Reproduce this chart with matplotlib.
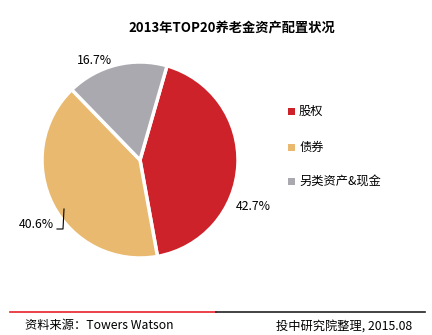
import matplotlib
matplotlib.use("Agg")
import matplotlib.pyplot as plt
from matplotlib.patches import Rectangle
from matplotlib.lines import Line2D

plt.rcParams['font.family'] = ['Noto Sans CJK SC', 'DejaVu Sans']

labels = ["股权", "债券", "另类资产&现金"]
shares = [42.7, 40.6, 16.7]
colors = ["#CD2229", "#E8B96F", "#A9A9AF"]
title = "2013年TOP20养老金资产配置状况"
source = "资料来源：Towers Watson"
note = "投中研究院整理, 2015.08"

W, H = 432, 335
fig = plt.figure(figsize=(W / 100, H / 100), dpi=100)

# pie axes placed in pixel units: centre (140,160), radius ~98
cx, cy, r = 140, 160, 98
ax = fig.add_axes([(cx - r) / W, (H - cy - r) / H, 2 * r / W, 2 * r / H])
wedges, _ = ax.pie(shares, colors=colors, startangle=74, counterclock=False,
                   radius=1.0, wedgeprops=dict(edgecolor="white", linewidth=2.5))
ax.set_xlim(-1, 1)
ax.set_ylim(-1, 1)
ax.set_aspect("equal")
ax.axis("off")

fig.text(232 / W, 1 - 28 / H, title, ha="center", va="center",
         fontsize=9.5, fontweight="bold")

# value labels
fig.text(236 / W, 1 - 206 / H, f"{shares[0]}%", ha="left", va="center", fontsize=8.8)
fig.text(19 / W, 1 - 224 / H, f"{shares[1]}%", ha="left", va="center", fontsize=8.8)
fig.text(77 / W, 1 - 60 / H, f"{shares[2]}%", ha="left", va="center", fontsize=8.8)
fig.add_artist(Line2D([57 / W, 63 / W, 64 / W], [1 - 229 / H, 1 - 229 / H, 1 - 209 / H],
                      color="black", lw=0.8))

# legend
for i, (lab, col) in enumerate(zip(labels, colors)):
    y = [111, 147, 181][i]
    fig.add_artist(Rectangle((288 / W, 1 - (y + 3.5) / H), 7 / W, 7 / H,
                             facecolor=col, edgecolor="none"))
    fig.text(299 / W, 1 - y / H, lab, ha="left", va="center", fontsize=8.8)

# footer
fig.add_artist(Line2D([10 / W, 216 / W], [1 - 312 / H] * 2, color="#E8202A", lw=1.2))
fig.add_artist(Line2D([216 / W, 425 / W], [1 - 312 / H] * 2, color="#222222", lw=1.2))
fig.text(25 / W, 1 - 326 / H, source, ha="left", va="center", fontsize=8.8)
fig.text(412 / W, 1 - 326 / H, note, ha="right", va="center", fontsize=8.8)

fig.savefig("out.png", dpi=100)
